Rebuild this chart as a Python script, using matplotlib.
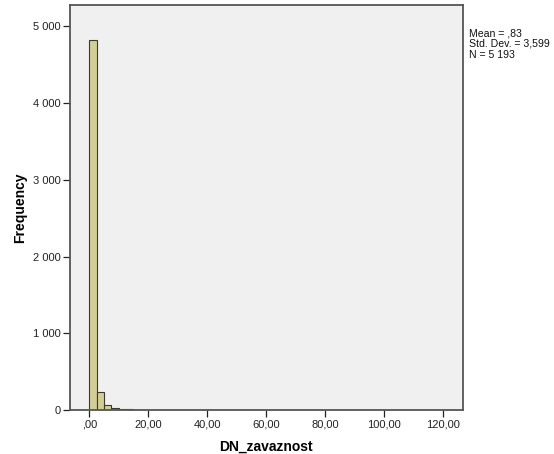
import matplotlib
matplotlib.use("Agg")
import matplotlib.pyplot as plt
import numpy as np

plt.rcParams['font.family'] = ['Liberation Sans', 'DejaVu Sans']

# Histogram data (bin width 2.5, starting at 0)
bin_width = 2.5
bin_starts = [0, 2.5, 5, 7.5, 10, 12.5, 15, 17.5, 20, 22.5, 25, 27.5, 30, 32.5, 35, 72.5, 112.5]
counts = [4829, 229, 65, 22, 12, 8, 5, 6, 4, 3, 2, 1, 1, 3, 1, 1, 1]

x_ticks = [0, 20, 40, 60, 80, 100, 120]
x_tick_labels = [",00", "20,00", "40,00", "60,00", "80,00", "100,00", "120,00"]
y_ticks = [0, 1000, 2000, 3000, 4000, 5000]
y_tick_labels = ["0", "1 000", "2 000", "3 000", "4 000", "5 000"]

stats_text = "Mean = ,83\nStd. Dev. = 3,599\nN = 5 193"
title = "DN_zavaznost"
x_label = "DN_zavaznost"
y_label = "Frequency"

fig = plt.figure(figsize=(5.54, 4.54), dpi=100)
ax = fig.add_axes([70/554, 1-410/454, (462.7-70)/554, (410-5)/454])
ax.set_facecolor('#F0F0F0')

ax.bar(bin_starts, counts, width=bin_width, align='edge',
       color='#D3CE97', edgecolor='#3a3a2a', linewidth=0.8)

ax.set_xlim(-6.5, 126.6)
ax.set_ylim(0, 5280)
ax.set_xticks(x_ticks)
ax.set_xticklabels(x_tick_labels)
ax.set_yticks(y_ticks)
ax.set_yticklabels(y_tick_labels)
ax.tick_params(axis='both', labelsize=8, colors='#222222', length=5, width=0.9,
               direction='out', pad=2)
for s in ax.spines.values():
    s.set_color('#555555')
    s.set_linewidth(1.3)

ax.set_xlabel(x_label, fontsize=10, fontweight='bold', labelpad=7)
ax.set_ylabel(y_label, fontsize=10, fontweight='bold', labelpad=4)

fig.text(469/554, 1-28/454, stats_text, fontsize=7.6, va='top', ha='left',
         linespacing=1.12, color='#111111')

fig.text(290/554, 1+2.5/454, title, fontsize=12, fontweight='bold', ha='center',
         va='baseline')

fig.savefig('out.png', dpi=100)
